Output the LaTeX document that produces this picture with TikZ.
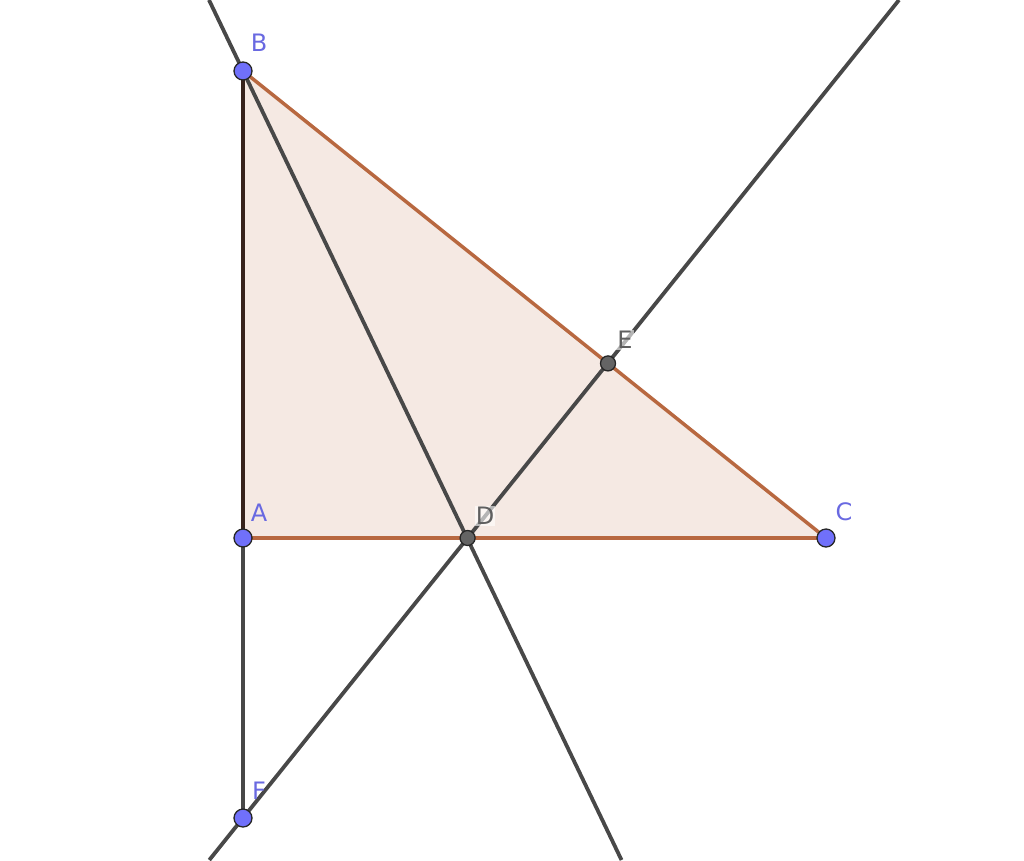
\documentclass[tikz,border=0pt]{standalone}
\usepackage{fontspec}
\setmainfont{DejaVu Sans}
\definecolor{polyfill}{RGB}{245,233,227}
\definecolor{polyedge}{RGB}{184,104,64}
\definecolor{lin}{RGB}{72,72,72}
\definecolor{ptblue}{RGB}{112,112,250}
\definecolor{lblblue}{RGB}{105,105,225}
\definecolor{ptgrey}{RGB}{100,100,100}
\definecolor{lblgrey}{RGB}{95,95,95}
\tikzset{
  geoline/.style={draw=lin, line width=3.8pt},
  polyside/.style={draw=polyedge, line width=3.5pt},
  bluept/.style={circle, fill=ptblue, draw=black!85, line width=1.3pt, minimum size=18pt, inner sep=0pt},
  greypt/.style={circle, fill=ptgrey, draw=black!85, line width=1.3pt, minimum size=15pt, inner sep=0pt},
  bluelbl/.style={text=lblblue, font=\fontsize{24}{24}\selectfont, inner sep=1pt},
  greylbl/.style={text=lblgrey, font=\fontsize{24}{24}\selectfont, inner sep=1pt, fill=white, fill opacity=0.6, text opacity=1}
}
\begin{document}
\begin{tikzpicture}[x=1pt,y=-1pt]
\useasboundingbox (0,0) rectangle (1024,860);
\coordinate (B) at (243,71);
\coordinate (A) at (243,538);
\coordinate (C) at (826,538);
\coordinate (D) at (467.6,538);
\coordinate (E) at (608,363.4);
\coordinate (F) at (243,818);
\coordinate (Ltop) at (209,0);
\coordinate (Lbot) at (621.5,860);
\coordinate (Mtop) at (899,0);
\coordinate (Mbot) at (209.3,860);
% polygon fill
\fill[polyfill] (A) -- (B) -- (C) -- cycle;
% polygon sides
\draw[polyside] (A) -- (C);
\draw[polyside] (B) -- (C);
% lines
\draw[geoline] (Ltop) -- (Lbot);
\draw[geoline] (Mbot) -- (Mtop);
\draw[geoline] (A) -- (F);
\draw[draw={rgb,255:red,55;green,35;blue,28}, line width=3.8pt] (A) -- (B);
% points
\node[bluept] (pB) at (B) {};
\node[bluept] (pA) at (A) {};
\node[bluept] (pC) at (C) {};
\node[bluept] (pF) at (F) {};
\node[greypt] (pD) at (D) {};
\node[greypt] (pE) at (E) {};
% labels
\node[bluelbl] (lB) at (259,43) {B};
\node[bluelbl] (lA) at (259,513) {A};
\node[bluelbl] (lC) at (844,512) {C};
\node[bluelbl] (lF) at (259,791) {F};
\node[greylbl] (lD) at (485,516) {D};
\node[greylbl] (lE) at (625,340) {E};
\end{tikzpicture}
\end{document}
